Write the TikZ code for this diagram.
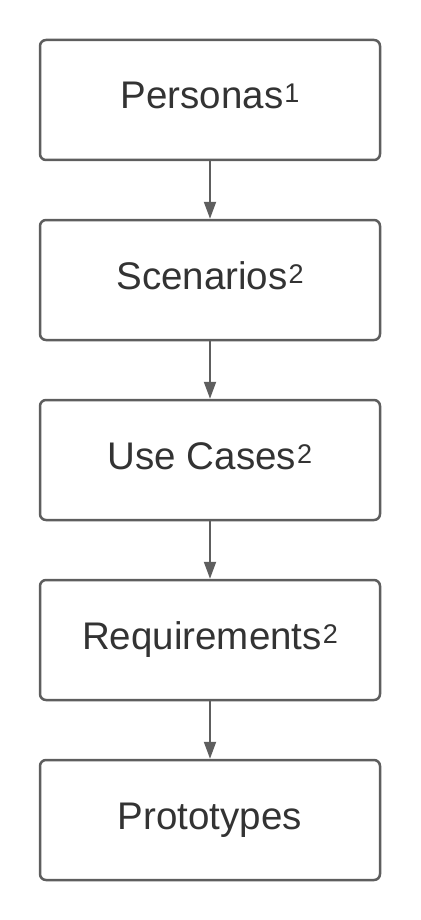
\documentclass[tikz,border=0pt]{standalone}
\usepackage{fontspec}
\setmainfont{Liberation Sans}
\usetikzlibrary{arrows.meta}
\definecolor{edgegray}{HTML}{5E5E5E}
\definecolor{txtgray}{HTML}{333333}
\newcommand{\mysup}[1]{\kern1pt\raisebox{6pt}{\fontsize{27}{27}\selectfont #1}}
\begin{document}
\begin{tikzpicture}[x=1pt,y=-1pt,
 box/.style={draw=edgegray, line width=2.5pt, rounded corners=6pt, minimum width=340pt, minimum height=120pt, inner sep=0pt, fill=white},
 lbl/.style={font=\fontsize{38.5}{38.5}\selectfont, text=txtgray, anchor=base, inner sep=0pt},
 conn/.style={draw=edgegray, line width=2pt, -{Triangle[length=17pt,width=12pt]}}]
\useasboundingbox (0,0) rectangle (420,920);
\node[box] (b1) at (210,100) {};
\node[box] (b2) at (210,280) {};
\node[box] (b3) at (210,460) {};
\node[box] (b4) at (210,640) {};
\node[box] (b5) at (210,820) {};
\node[lbl] (t1) at (210,109) {Personas\mysup{1}};
\node[lbl] (t2) at (210,289) {Scenarios\mysup{2}};
\node[lbl] (t3) at (210,469) {Use Cases\mysup{2}};
\node[lbl] (t4) at (210,649) {Requirements\mysup{2}};
\node[lbl] (t5) at (210,829) {Prototypes};
\draw[conn] (b1.south) -- (b2.north);
\draw[conn] (b2.south) -- (b3.north);
\draw[conn] (b3.south) -- (b4.north);
\draw[conn] (b4.south) -- (b5.north);
\end{tikzpicture}
\end{document}
